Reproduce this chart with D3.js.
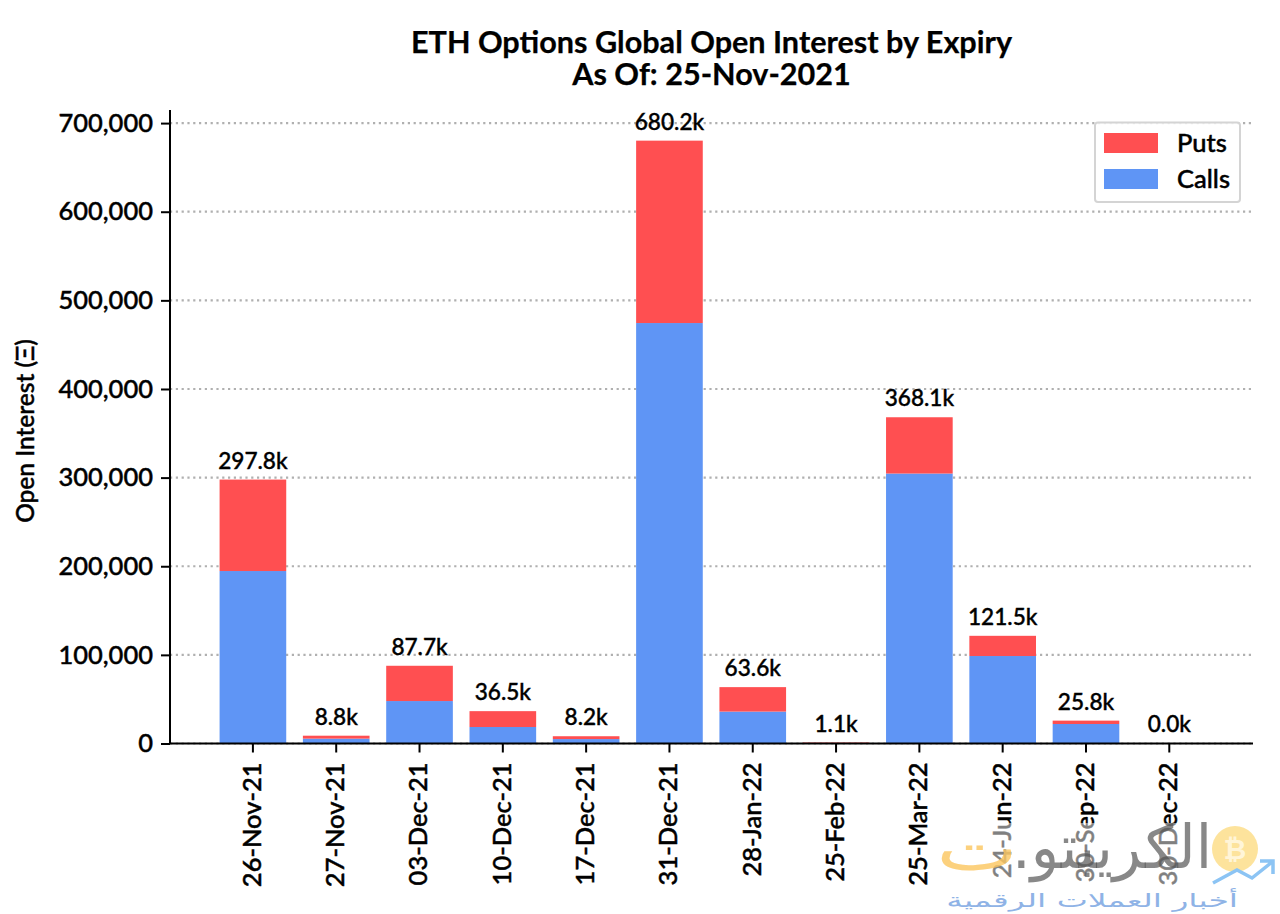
<!DOCTYPE html>
<html>
<head>
<meta charset="utf-8">
<script src="https://cdn.jsdelivr.net/npm/d3@7"></script>
<style>
  html, body { margin: 0; padding: 0; background: #fff; }
  svg { display: block; }
  text { font-family: Lato, sans-serif; fill: #000; }
  .tick-label { font-size: 25.5px; font-weight: 500; stroke: #000; stroke-width: 0.45px; }
  .title { font-size: 30.6px; font-weight: 700; stroke: #000; stroke-width: 0.25px; }
  .bar-label { font-size: 22.6px; font-weight: 500; stroke: #000; stroke-width: 0.4px; }
</style>
</head>
<body>
<svg id="chart" width="1280" height="914"></svg>
<script>
var expiries = ['26-Nov-21','27-Nov-21','03-Dec-21','10-Dec-21','17-Dec-21','31-Dec-21','28-Jan-22','25-Feb-22','25-Mar-22','24-Jun-22','30-Sep-22','30-Dec-22'];
var calls = [194600, 5500, 47900, 18600, 5000, 474400, 36000, 300, 304600, 98700, 22000, 10];
var puts = [103200, 3300, 39800, 17900, 3200, 205800, 27600, 800, 63500, 22800, 3800, 10];
var yTicks = [0, 100000, 200000, 300000, 400000, 500000, 600000, 700000];
var titleLines = ['ETH Options Global Open Interest by Expiry', 'As Of: 25-Nov-2021'];
var seriesNames = ['Puts', 'Calls'];
var seriesColors = ['#ff4f51', '#5f95f5'];

var margin = {top: 110, left: 170, bottom: 170.5, right: 27};
var svg = d3.select('#chart');
var width = +svg.attr('width'), height = +svg.attr('height');
var totals = calls.map(function(c, i){ return c + puts[i]; });

var x = d3.scaleBand().domain(expiries)
    .range([margin.left - 0.4, width - margin.right - 0.4])
    .paddingInner(0.2).paddingOuter(0.6);
var y = d3.scaleLinear().domain([0, d3.max(totals) * 1.05])
    .range([height - margin.bottom, margin.top + 0.5]);

// title
svg.selectAll('text.title').data(titleLines).enter().append('text')
    .attr('class', 'title')
    .attr('x', 711.5)
    .attr('y', function(d, i){ return 52.5 + i * 32.5; })
    .attr('text-anchor', 'middle')
    .text(function(d){ return d; });

// grid
svg.append('g').selectAll('line').data(yTicks).enter().append('line')
    .attr('x1', margin.left).attr('x2', width - margin.right)
    .attr('y1', y).attr('y2', y)
    .attr('stroke', '#b0b0b0').attr('stroke-width', 2.2)
    .attr('stroke-dasharray', '2.2 3.6');

// bars
var barG = svg.append('g');
barG.selectAll('rect.calls').data(expiries).enter().append('rect')
    .attr('class', 'calls')
    .attr('x', function(d){ return x(d); })
    .attr('width', x.bandwidth())
    .attr('y', function(d, i){ return y(calls[i]); })
    .attr('height', function(d, i){ return y(0) - y(calls[i]); })
    .attr('fill', seriesColors[1]);
barG.selectAll('rect.puts').data(expiries).enter().append('rect')
    .attr('class', 'puts')
    .attr('x', function(d){ return x(d); })
    .attr('width', x.bandwidth())
    .attr('y', function(d, i){ return y(totals[i]); })
    .attr('height', function(d, i){ return y(calls[i]) - y(totals[i]); })
    .attr('fill', seriesColors[0]);

// bar labels
svg.selectAll('text.bar-label').data(expiries).enter().append('text')
    .attr('class', 'bar-label')
    .attr('x', function(d){ return x(d) + x.bandwidth() / 2; })
    .attr('y', function(d, i){ return y(totals[i]) - 11; })
    .attr('text-anchor', 'middle')
    .text(function(d, i){ return (totals[i] / 1000).toFixed(1) + 'k'; });

// axes
var yAxis = svg.append('g')
    .attr('transform', 'translate(' + margin.left + ',0)')
    .call(d3.axisLeft(y).tickValues(yTicks).tickFormat(d3.format(',')).tickSize(9).tickPadding(8));
var xAxis = svg.append('g')
    .attr('transform', 'translate(0,' + (height - margin.bottom) + ')')
    .call(d3.axisBottom(x).tickSize(9).tickPadding(8));

[xAxis, yAxis].forEach(function(a){
    a.selectAll('path.domain').attr('stroke', '#000').attr('stroke-width', 2).attr('d', null);
    a.selectAll('.tick line').attr('stroke', '#000').attr('stroke-width', 2);
    a.selectAll('.tick text').attr('class', 'tick-label').attr('fill', '#000');
});
yAxis.select('path.domain').attr('d', 'M0,' + margin.top + 'V' + y(0));
xAxis.select('path.domain').attr('d', 'M' + margin.left + ',0H' + (width - margin.right));
xAxis.selectAll('.tick text')
    .attr('text-anchor', 'end')
    .attr('transform', 'rotate(-90)')
    .attr('x', -19).attr('y', -1).attr('dy', '0.35em');

// y label
svg.append('text')
    .attr('transform', 'translate(34,431) rotate(-90)')
    .attr('text-anchor', 'middle')
    .style('font-size', '24.5px')
    .style('font-weight', 500)
    .style('stroke', '#000').style('stroke-width', '0.45px')
    .text('Open Interest (Ξ)');

// legend
var legend = svg.append('g');
legend.append('rect')
    .attr('x', 1095).attr('y', 122.5).attr('width', 145).attr('height', 79.5).attr('rx', 3)
    .attr('fill', '#fff').attr('fill-opacity', 0.8)
    .attr('stroke', '#d4d4d4').attr('stroke-width', 2);
seriesNames.forEach(function(name, i){
    legend.append('rect')
        .attr('x', 1104).attr('y', 133 + i * 36).attr('width', 54).attr('height', 20)
        .attr('fill', seriesColors[i]);
    legend.append('text')
        .attr('class', 'tick-label')
        .attr('x', 1177).attr('y', 152 + i * 36)
        .text(name);
});

// watermark, its white veil fades the tick labels below y 823
var wm = svg.append('g');
wm.append('rect')
    .attr('x', 990).attr('y', 823).attr('width', 290).attr('height', 70)
    .attr('fill', '#fff').attr('fill-opacity', 0.5);
wm.append('text')
    .attr('direction', 'rtl')
    .attr('text-anchor', 'start')
    .attr('transform', 'translate(1212,868) scale(0.98,1)')
    .style('font-family', '"DejaVu Sans", sans-serif')
    .style('font-size', '60px')
    .style('fill', '#555').style('fill-opacity', 0.7)
    .text('الكريبتو.');
wm.append('text')
    .attr('direction', 'rtl')
    .attr('text-anchor', 'start')
    .attr('transform', 'translate(1018,870) scale(1.4,1)')
    .style('font-family', '"DejaVu Sans", sans-serif')
    .style('font-size', '62px')
    .style('fill', '#fbc55e').style('fill-opacity', 0.8)
    .text('ت');
wm.append('circle').attr('cx', 1235).attr('cy', 849).attr('r', 23)
    .attr('fill', '#fde39c');
wm.append('text')
    .attr('x', 1235).attr('y', 859)
    .attr('text-anchor', 'middle')
    .style('font-size', '28px').style('font-weight', 700)
    .style('fill', '#fff5d8')
    .text('₿');
wm.append('path')
    .attr('d', 'M1213,883L1237,870L1252,878L1272,862M1260,861H1273V874')
    .attr('fill', 'none').attr('stroke', '#8cc4f4').attr('stroke-width', 3.5);
wm.append('text')
    .attr('direction', 'rtl')
    .attr('text-anchor', 'start')
    .attr('transform', 'translate(1238,907) scale(1.74,1)')
    .style('font-family', '"DejaVu Sans", sans-serif')
    .style('font-size', '19px')
    .style('fill', '#8fb3e6')
    .text('أخبار العملات الرقمية');
</script>
</body>
</html>
